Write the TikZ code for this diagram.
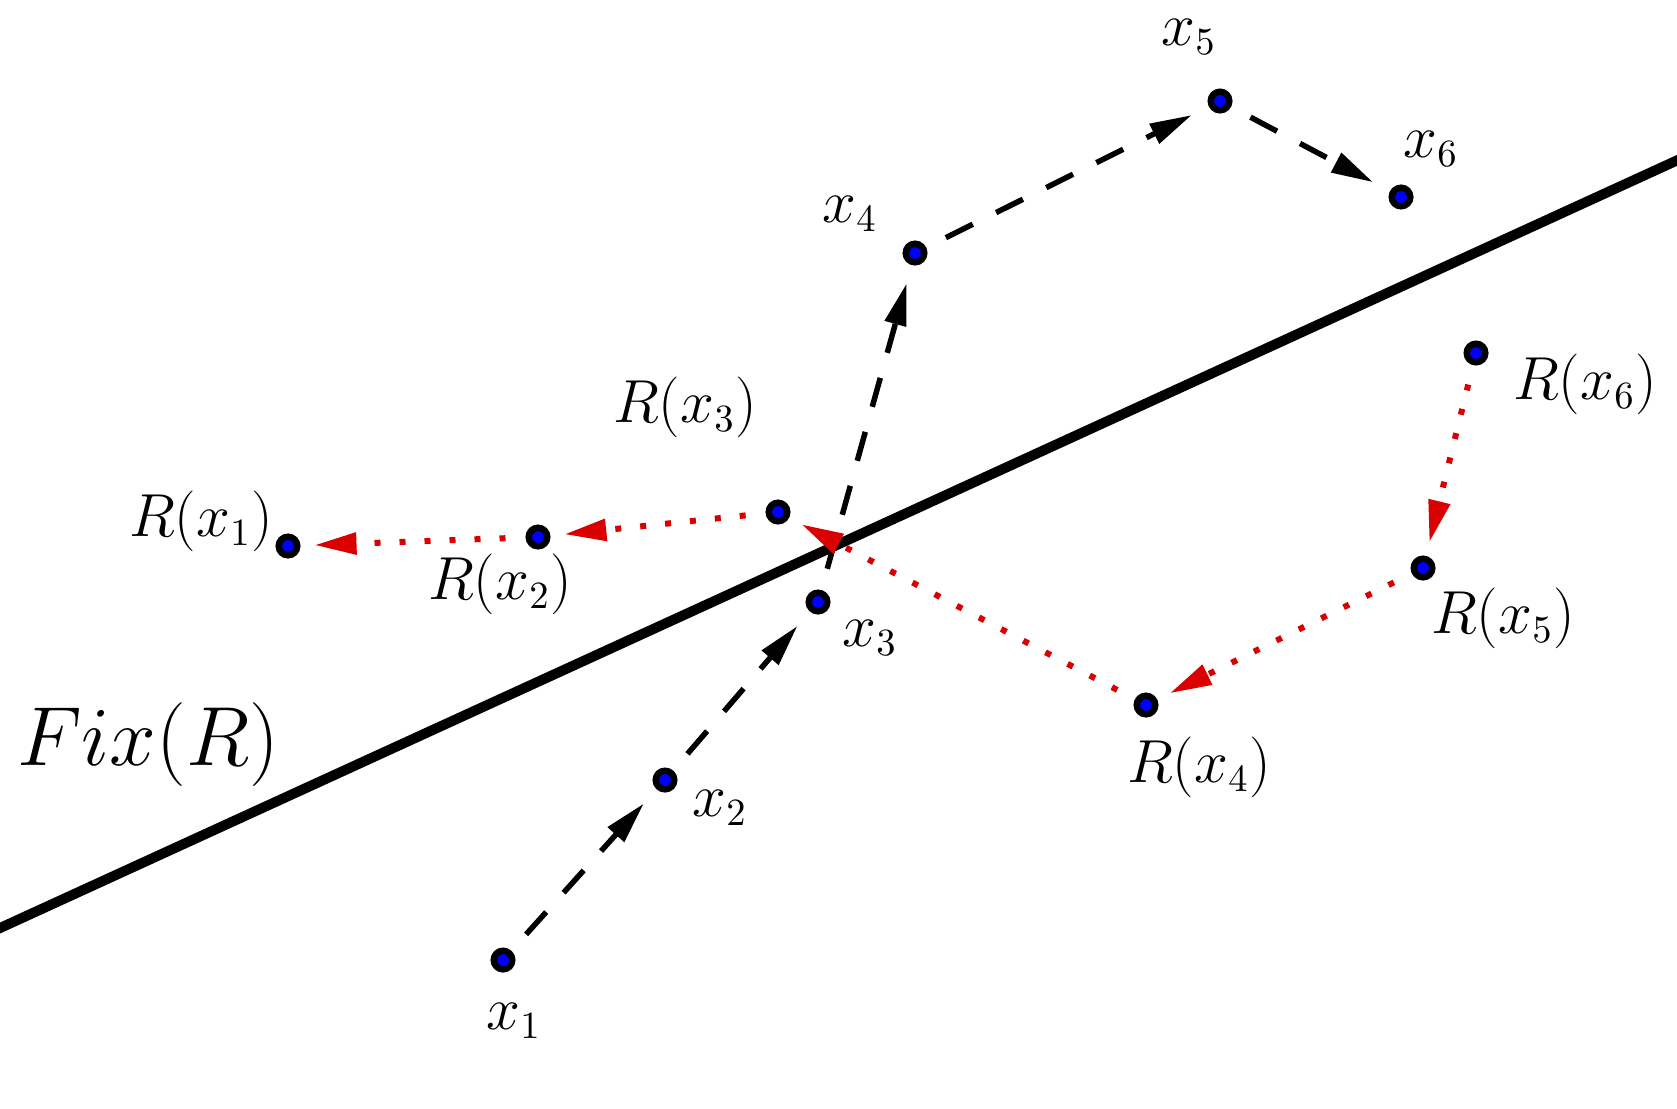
\documentclass[tikz,border=0pt]{standalone}
\usepackage{amsmath}
\usepackage{tikz}
\usetikzlibrary{arrows.meta,positioning}
\definecolor{pointblue}{RGB}{0, 0, 255}
\definecolor{reflred}{RGB}{218, 0, 0}

\begin{document}
\begin{tikzpicture}[
    x=0.01cm, y=-0.01cm,
    every node/.style={align=center},
    pt/.style={circle, draw=black, fill=pointblue, line width=0.065cm, inner sep=0pt, minimum size=0.185cm},
    lbl/.style={inner sep=1pt, font=\fontsize{16}{19}\selectfont},
    fixline/.style={line width=0.1cm},
    move/.style={line width=0.055cm, dash pattern=on 0.3cm off 0.26cm, shorten <=0.22cm, shorten >=0.19cm, -{Triangle[length=0.42cm, width=0.21cm]}},
    refl/.style={reflred, line width=0.06cm, dash pattern=on 0.06cm off 0.19cm, shorten <=0.2cm, shorten >=0.14cm, -{Triangle[length=0.42cm, width=0.21cm]}}
]
\useasboundingbox (0,0) rectangle (1677,1108);

% Fixed line
\coordinate (fl) at (-10,932.6);
\coordinate (fr) at (1687,155.8);
\draw[fixline] (fl) -- (fr);
\node[lbl, font=\huge] (fix) at (148,745) {\scalebox{1.15}{$Fix(R)$}};

% Orbit points
\node[pt] (x1) at (503,960) {};
\node[pt] (x2) at (665,780) {};
\node[pt] (x3) at (818,602) {};
\node[pt] (x4) at (915,253) {};
\node[pt] (x5) at (1220,101) {};
\node[pt] (x6) at (1401,197) {};

% Reflected points
\node[pt] (r1) at (288,546) {};
\node[pt] (r2) at (538,537) {};
\node[pt] (r3) at (778,512) {};
\node[pt] (r4) at (1146,705) {};
\node[pt] (r5) at (1423,568) {};
\node[pt] (r6) at (1476,353) {};

% Labels
\node[lbl] at (514,1021) {$x_1$};
\node[lbl] at (720,808) {$x_2$};
\node[lbl] at (870,638) {$x_3$};
\node[lbl] at (850,214) {$x_4$};
\node[lbl] at (1189,37) {$x_5$};
\node[lbl] at (1431,149) {$x_6$};
\node[lbl] at (201,521) {$R(x_1)$};
\node[lbl] at (500,584) {$R(x_2)$};
\node[lbl] at (685,407) {$R(x_3)$};
\node[lbl] at (1199,767) {$R(x_4)$};
\node[lbl] at (1503,618) {$R(x_5)$};
\node[lbl] at (1585,384) {$R(x_6)$};

% Forward orbit
\draw[move] (x1) -- (x2);
\draw[move] (x2) -- (x3);
\draw[move] (x3) -- (x4);
\draw[move] (x4) -- (x5);
\draw[move] (x5) -- (x6);

% Reflected orbit
\draw[refl] (r6) -- (r5);
\draw[refl] (r5) -- (r4);
\draw[refl] (r4) -- (r3);
\draw[refl] (r3) -- (r2);
\draw[refl] (r2) -- (r1);

\end{tikzpicture}
\end{document}
